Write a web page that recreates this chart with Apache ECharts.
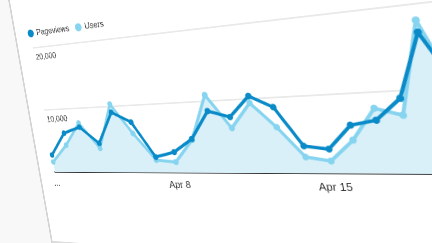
<!DOCTYPE html>
<html>
<head>
<meta charset="utf-8">
<title>Pageviews and Users</title>
<script src="https://cdn.jsdelivr.net/npm/echarts@6/dist/echarts.min.js"></script>
<style>
html, body { margin: 0; padding: 0; width: 432px; height: 243px; overflow: hidden; background: #f8f8f8; }
#screen { position: absolute; left: 0; top: 0; width: 640px; height: 340px; transform-origin: 0 0; }
#panel { position: absolute; left: 30px; top: -70px; width: 720px; height: 412px; background: #fff;
	border-left: 3px solid #d4d4d4; border-bottom: 3px solid #dcdcdc; }
#main { position: absolute; left: 0; top: 0; width: 640px; height: 340px; }
</style>
</head>
<body>
<div id="screen">
	<div id="panel"></div>
	<div id="main"></div>
</div>
<script>
// data, one point per day
var categories = ['Apr 1', 'Apr 2', 'Apr 3', 'Apr 4', 'Apr 5', 'Apr 6', 'Apr 7', 'Apr 8', 'Apr 9', 'Apr 10',
	'Apr 11', 'Apr 12', 'Apr 13', 'Apr 14', 'Apr 15', 'Apr 16', 'Apr 17', 'Apr 18', 'Apr 19', 'Apr 20'];
var pageviews = [2740, 6200, 7050, 4470, 9100, 7520, 2280, 2970, 4790, 8630,
	7670, 10380, 8740, 3550, 3100, 6050, 6560, 9090, 16680, 10300];
var users = [1610, 4290, 7680, 3700, 10330, 5820, 1840, 1530, 4650, 10870,
	6160, 9440, 6090, 2120, 1580, 4180, 8030, 7050, 18100, 9600];
var legendNames = ['Pageviews', 'Users'];
var xTickIndex = [0, 7, 14];
var xTickText = ['...', 'Apr 8', 'Apr 15'];
var yTickValue = [10000, 20000];
var yTickText = ['10,000', '20,000'];

// plot box inside the flat chart
var gridLeft = 60, gridTop = 60, gridWidth = 540, gridHeight = 180;

var myChart = echarts.init(document.getElementById('main'), null, {devicePixelRatio: 2});

var option = {
	animation: false,
	legend: {
		data: legendNames,
		left: 50,
		top: 28,
		icon: 'circle',
		itemWidth: 11,
		itemHeight: 11,
		itemGap: 10,
		textStyle: { fontFamily: 'Liberation Sans, Arial, sans-serif', fontSize: 12, color: '#333' }
	},
	grid: { left: gridLeft, top: gridTop, width: gridWidth, height: gridHeight },
	xAxis: {
		type: 'category',
		boundaryGap: false,
		data: categories,
		axisLine: { lineStyle: { color: '#333', width: 2 } },
		axisTick: { show: false },
		axisLabel: {
			margin: 10,
			fontFamily: 'Liberation Sans, Arial, sans-serif',
			fontSize: 13,
			color: '#333',
			interval: function (i) { return xTickIndex.indexOf(i) >= 0; },
			formatter: function (v, i) { return xTickText[xTickIndex.indexOf(i)]; }
		},
		splitLine: { show: false }
	},
	yAxis: {
		type: 'value',
		min: 0,
		max: 20000,
		interval: 10000,
		axisLine: { show: false },
		axisTick: { show: false },
		axisLabel: {
			inside: true,
			margin: 2,
			verticalAlign: 'top',
			padding: [8, 0, 0, 0],
			fontFamily: 'Liberation Sans, Arial, sans-serif',
			fontSize: 12,
			color: '#444',
			formatter: function (v) {
				var k = yTickValue.indexOf(v);
				return k >= 0 ? yTickText[k] : '';
			}
		},
		splitLine: { lineStyle: { color: '#e2e2e2', width: 1.5 } }
	},
	series: [{
			name: 'Users',
			type: 'line',
			data: users,
			symbol: 'circle',
			symbolSize: 8,
			z: 2,
			itemStyle: { color: '#86d4ef' },
			lineStyle: { color: '#86d4ef', width: 4 },
			areaStyle: { color: '#d9f0f9', opacity: 1 }
		},
		{
			name: 'Pageviews',
			type: 'line',
			data: pageviews,
			symbol: 'circle',
			symbolSize: 8,
			z: 3,
			itemStyle: { color: '#0a8bc8' },
			lineStyle: { color: '#0a8bc8', width: 4 }
		}
	]
};
myChart.setOption(option);

// the photo is taken at an angle: map the plot corners (Apr 1 and Apr 19 columns)
// onto where they sit in the picture with a projective transform
function homography(src, dst) {
	var A = [], b = [];
	for (var i = 0; i < 4; i++) {
		var x = src[i][0], y = src[i][1], X = dst[i][0], Y = dst[i][1];
		A.push([x, y, 1, 0, 0, 0, -x * X, -y * X]); b.push(X);
		A.push([0, 0, 0, x, y, 1, -x * Y, -y * Y]); b.push(Y);
	}
	var n = 8;
	for (var c = 0; c < n; c++) {
		var p = c;
		for (var r = c + 1; r < n; r++) {
			if (Math.abs(A[r][c]) > Math.abs(A[p][c])) p = r;
		}
		var t = A[c]; A[c] = A[p]; A[p] = t;
		t = b[c]; b[c] = b[p]; b[p] = t;
		for (var r = c + 1; r < n; r++) {
			var f = A[r][c] / A[c][c];
			for (var k = c; k < n; k++) A[r][k] -= f * A[c][k];
			b[r] -= f * b[c];
		}
	}
	var h = new Array(n);
	for (var r = n - 1; r >= 0; r--) {
		var s = b[r];
		for (var k = r + 1; k < n; k++) s -= A[r][k] * h[k];
		h[r] = s / A[r][r];
	}
	return h;
}

var step = gridWidth / (categories.length - 1);
var xRight = gridLeft + 18 * step;
var src = [[gridLeft, gridTop], [gridLeft, gridTop + gridHeight], [xRight, gridTop + gridHeight], [xRight, gridTop]];
var dst = [[33, 48], [55, 172], [442, 174], [413, 4]];
var h = homography(src, dst);
document.getElementById('screen').style.transform =
	'matrix3d(' + [h[0], h[3], 0, h[6], h[1], h[4], 0, h[7], 0, 0, 1, 0, h[2], h[5], 0, 1].join(',') + ')';
</script>
</body>
</html>
